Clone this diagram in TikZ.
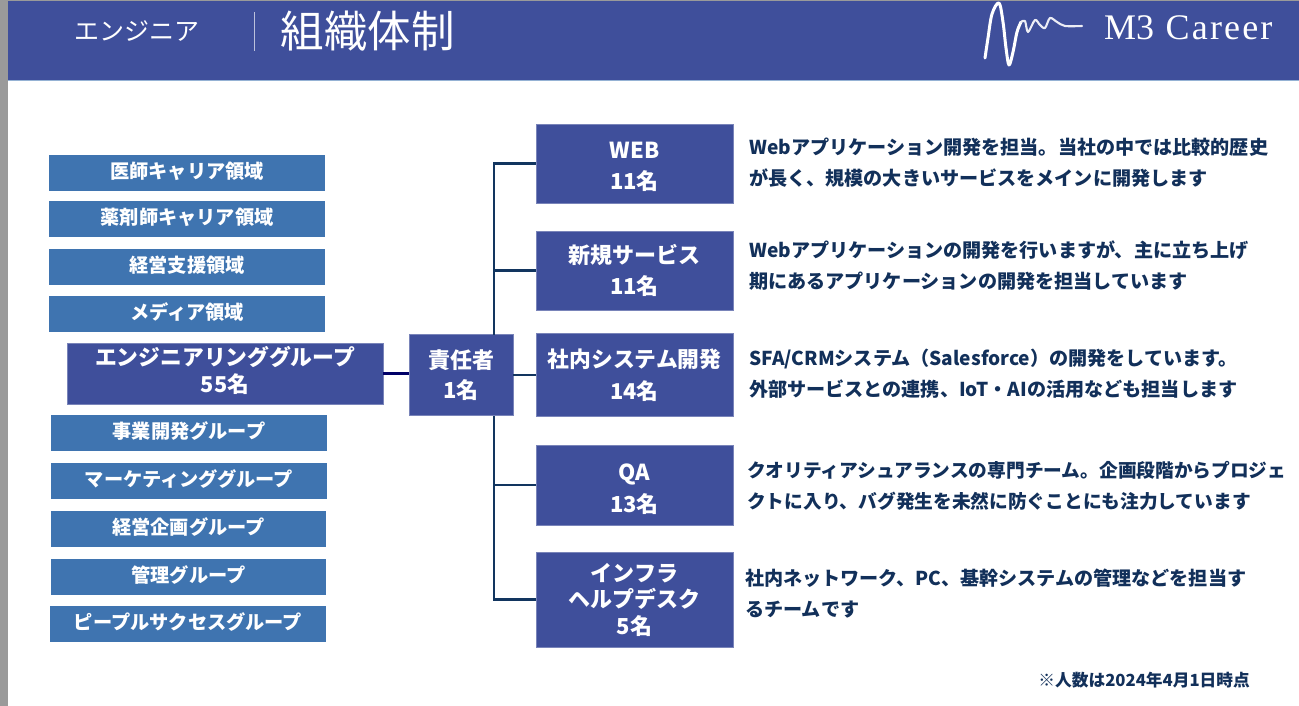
\documentclass[tikz,border=0pt]{standalone}
\usepackage{fontspec}
\setmainfont{Liberation Serif}
\newfontfamily\cjk{Noto Sans CJK JP}
\definecolor{banner}{HTML}{3F4F9B}
\definecolor{lightbox}{HTML}{3F74B0}
\definecolor{conn}{HTML}{12355F}
\definecolor{ink}{HTML}{12305A}
\definecolor{strip}{HTML}{9A9A9A}
\newcommand{\fs}[2]{\fontsize{#1}{#2}\selectfont}
\newcommand{\dropfirst}[1]{\rule{0pt}{#1}}
\newcommand{\liftlast}[1]{\rule[-#1]{0pt}{#1}}
\tikzset{
  lbox/.style={fill=lightbox,text=white,inner sep=0pt,text depth=5pt,font=\cjk\bfseries\fs{19.2}{22}},
  dbox/.style={fill=banner,draw=banner!70!white,line width=.5pt,text=white,inner sep=0pt,align=center,font=\cjk\bfseries\fs{22}{30.5}},
  desc/.style={anchor=west,text=ink,inner sep=0pt,align=left,font=\cjk\bfseries\fs{19.1}{31}},
  connline/.style={draw=conn,line width=2.4pt}
}
\begin{document}
\begin{tikzpicture}[x=1pt,y=-1pt]
\useasboundingbox (0,0) rectangle (1299,706);
\fill[white] (0,0) rectangle (1299,706);
\fill[strip] (0,0) rectangle (8,706);
\fill[strip] (0,0) rectangle (1299,1.5);
\fill[banner] (8,1.5) rectangle (1299,80);
\fill[lightbox!55!white] (8,80) rectangle (1299,81);
% header
\node[text=white,inner sep=0pt,font=\cjk\fs{25}{28}] (eng) at (137,31) {エンジニア};
\node[text=white,inner sep=0pt,font=\cjk\fs{43.5}{46}] (title) at (367.5,31) {組織体制};
\coordinate (sa) at (254,12);
\coordinate (sb) at (254,51);
\draw[white!65!banner,line width=.8pt] (sa) -- (sb);
\draw[white,line width=3pt,line cap=round,line join=round] plot[smooth,tension=.55] coordinates {(985,58) (988,38) (992,14) (999,3) (1003,22) (1006,48) (1009,65) (1013,52) (1017,32) (1021,22)};
\draw[white!90!banner,line width=2.1pt,line cap=round,line join=round] plot[smooth,tension=.5] coordinates {(1021,22) (1025,21) (1028,32) (1035,20) (1040,25) (1045,28) (1050,18) (1057,22) (1065,26) (1082,26)};
\node[text=white,inner sep=0pt,anchor=west,font=\fs{36}{40}] (logo) at (1104,28) {M3\hspace{.07em} \addfontfeature{LetterSpace=6}Career};
% left boxes
\node[lbox,minimum width=276pt,minimum height=36pt] (a1) at (187,173) {医師キャリア領域};
\node[lbox,minimum width=276pt,minimum height=36pt] (a2) at (187,219) {薬剤師キャリア領域};
\node[lbox,minimum width=276pt,minimum height=36pt] (a3) at (187,267) {経営支援領域};
\node[lbox,minimum width=276pt,minimum height=36pt] (a4) at (187,314) {メディア領域};
\node[lbox,minimum width=276pt,minimum height=36pt] (b1) at (189,433) {事業開発グループ};
\node[lbox,minimum width=276pt,minimum height=36pt] (b2) at (189,481) {マーケティンググループ};
\node[lbox,minimum width=275pt,minimum height=36pt] (b3) at (188.5,529) {経営企画グループ};
\node[lbox,minimum width=275pt,minimum height=36pt] (b4) at (188.5,577) {管理グループ};
\node[lbox,minimum width=276pt,minimum height=36pt] (b5) at (188,624) {ピープルサクセスグループ};
% main boxes
\node[dbox,minimum width=316pt,minimum height=61pt,font=\cjk\bfseries\fs{21.8}{27}] (main) at (225,373.5) {エンジニアリンググループ\\55名\liftlast{8pt}};
\node[dbox,minimum width=104pt,minimum height=81pt] (resp) at (461,375) {責任者\\1名};
\node[dbox,minimum width=197pt,minimum height=79pt] (web) at (634.5,163.5) {\dropfirst{23pt}WEB\\11名};
\node[dbox,minimum width=197pt,minimum height=79pt] (shin) at (634.5,270.5) {新規サービス\\11名};
\node[dbox,minimum width=197pt,minimum height=83pt,font=\cjk\bfseries\fs{21.8}{32}] (sha) at (634.5,375) {社内システム開発\\14名};
\node[dbox,minimum width=197pt,minimum height=80pt,font=\cjk\bfseries\fs{22}{32}] (qa) at (634.5,485) {\dropfirst{25pt}QA\\13名};
\node[dbox,minimum width=197pt,minimum height=95pt,font=\cjk\bfseries\fs{22}{26.5}] (inf) at (634.5,599.5) {インフラ\\ヘルプデスク\\5名};
% connectors
\coordinate (tt) at (494,335);
\coordinate (tb) at (494,416);
\draw[draw=black!10!blue!45!black,line width=3.4pt] (main.east) -- (main.east -| resp.west);
\draw[connline] (web.west) -| (tt);
\draw[connline] (shin.west) -| (tt);
\draw[connline] (qa.west) -| (tb);
\draw[connline] (inf.west) -| (tb);
\draw[connline] (resp.east) -- (sha.west);
% descriptions
\node[desc] (d1) at (749,163) {Webアプリケーション開発を担当。当社の中では比較的歴史\\が長く、規模の大きいサービスをメインに開発します};
\node[desc] (d2) at (749,266) {Webアプリケーションの開発を行いますが、主に立ち上げ\\期にあるアプリケーションの開発を担当しています};
\node[desc] (d3) at (749,374) {SFA/CRMシステム（Salesforce）の開発をしています。\\外部サービスとの連携、IoT・AIの活用なども担当します};
\node[desc,font=\cjk\bfseries\fs{18.7}{31}] (d4) at (747,486) {クオリティアシュアランスの専門チーム。企画段階からプロジェ\\クトに入り、バグ発生を未然に防ぐことにも注力しています};
\node[desc] (d5) at (745,594) {社内ネットワーク、PC、基幹システムの管理などを担当す\\るチームです};
\node[text=ink,inner sep=0pt,anchor=east,font=\cjk\bfseries\fs{16.7}{18}] (note) at (1250,680) {※人数は2024年4月1日時点};
\end{tikzpicture}
\end{document}
